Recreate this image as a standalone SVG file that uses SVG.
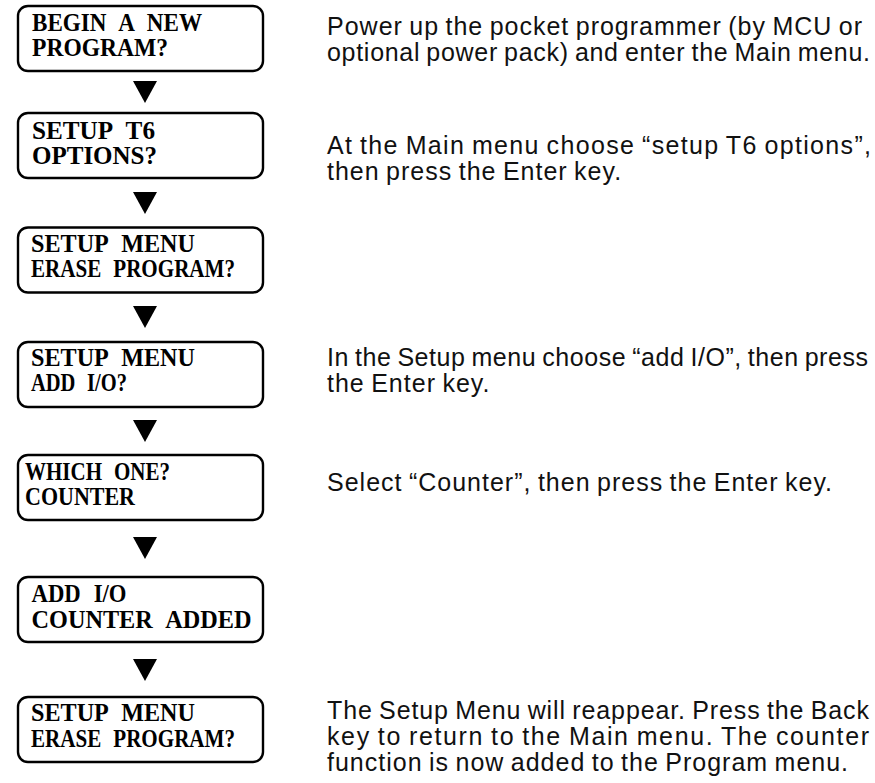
<svg xmlns="http://www.w3.org/2000/svg" width="875" height="783" viewBox="0 0 875 783">
<defs>
<style>
.box{fill:#fff;stroke:#000;stroke-width:2.4}
.lcd{font-family:"Liberation Serif","Times New Roman",serif;font-weight:bold;font-size:25px;fill:#000;word-spacing:8px}
.desc{font-family:"Liberation Sans",Arial,sans-serif;font-size:25px;fill:#111;letter-spacing:1px;word-spacing:-1.5px}
.arr{fill:#000}
</style>
</defs>
<rect width="875" height="783" fill="#fff"/>
<g id="connectors">
<polygon class="arr" points="133,81 157,81 145,103"/>
<polygon class="arr" points="133,192 157,192 145,214"/>
<polygon class="arr" points="133,306 157,306 145,328"/>
<polygon class="arr" points="133,420 157,420 145,442"/>
<polygon class="arr" points="133,537 157,537 145,559"/>
<polygon class="arr" points="133,659 157,659 145,681"/>
</g>
<g id="n1">
<rect class="box" x="18" y="6" width="245" height="65" rx="10"/>
<text class="lcd" x="32" y="31" textLength="170" lengthAdjust="spacingAndGlyphs">BEGIN A NEW</text>
<text class="lcd" x="32" y="56" textLength="136" lengthAdjust="spacingAndGlyphs">PROGRAM?</text>
</g>
<g id="n2">
<rect class="box" x="18" y="113" width="245" height="65" rx="10"/>
<text class="lcd" x="32" y="139" textLength="123" lengthAdjust="spacingAndGlyphs">SETUP T6</text>
<text class="lcd" x="32" y="164" textLength="125" lengthAdjust="spacingAndGlyphs">OPTIONS?</text>
</g>
<g id="n3">
<rect class="box" x="18" y="227.5" width="245" height="65" rx="10"/>
<text class="lcd" x="31" y="252" textLength="164" lengthAdjust="spacingAndGlyphs">SETUP MENU</text>
<text class="lcd" x="31" y="277" textLength="204" lengthAdjust="spacingAndGlyphs">ERASE PROGRAM?</text>
</g>
<g id="n4">
<rect class="box" x="18" y="342" width="245" height="65" rx="10"/>
<text class="lcd" x="31" y="366" textLength="164" lengthAdjust="spacingAndGlyphs">SETUP MENU</text>
<text class="lcd" x="31" y="391" textLength="96" lengthAdjust="spacingAndGlyphs">ADD I/O?</text>
</g>
<g id="n5">
<rect class="box" x="18" y="455" width="245" height="65" rx="10"/>
<text class="lcd" x="25" y="480" textLength="145" lengthAdjust="spacingAndGlyphs">WHICH ONE?</text>
<text class="lcd" x="25" y="505" textLength="110" lengthAdjust="spacingAndGlyphs">COUNTER</text>
</g>
<g id="n6">
<rect class="box" x="18" y="577" width="245" height="65" rx="10"/>
<text class="lcd" x="31.5" y="602" textLength="95" lengthAdjust="spacingAndGlyphs">ADD I/O</text>
<text class="lcd" x="31.5" y="628" textLength="220" lengthAdjust="spacingAndGlyphs">COUNTER ADDED</text>
</g>
<g id="n7">
<rect class="box" x="18" y="697" width="245" height="65" rx="10"/>
<text class="lcd" x="31" y="721" textLength="164" lengthAdjust="spacingAndGlyphs">SETUP MENU</text>
<text class="lcd" x="31" y="747" textLength="204" lengthAdjust="spacingAndGlyphs">ERASE PROGRAM?</text>
</g>
<g id="notes">
<text class="desc" x="327" y="35" textLength="536" lengthAdjust="spacing">Power up the pocket programmer (by MCU or</text>
<text class="desc" x="327" y="61" textLength="544" lengthAdjust="spacing">optional power pack) and enter the Main menu.</text>
<text class="desc" x="327" y="154" textLength="545" lengthAdjust="spacing">At the Main menu choose “setup T6 options”,</text>
<text class="desc" x="327" y="180">then press the Enter key.</text>
<text class="desc" x="327" y="366" textLength="542" lengthAdjust="spacing">In the Setup menu choose “add I/O”, then press</text>
<text class="desc" x="327" y="392">the Enter key.</text>
<text class="desc" x="327" y="491">Select “Counter”, then press the Enter key.</text>
<text class="desc" x="327" y="719" textLength="543" lengthAdjust="spacing">The Setup Menu will reappear. Press the Back</text>
<text class="desc" x="327" y="745" textLength="543" lengthAdjust="spacing">key to return to the Main menu. The counter</text>
<text class="desc" x="327" y="771">function is now added to the Program menu.</text>
</g>
</svg>
